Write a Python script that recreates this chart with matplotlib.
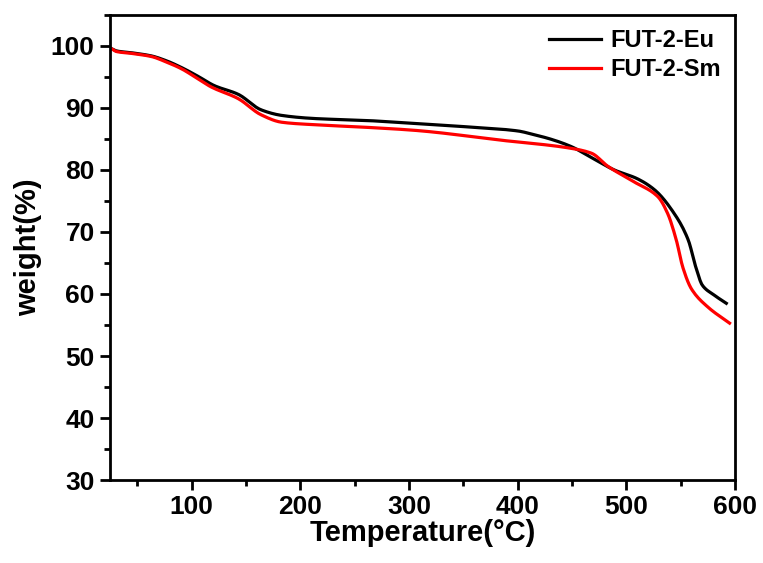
import matplotlib
matplotlib.use("Agg")
import matplotlib.pyplot as plt
from matplotlib.ticker import MultipleLocator
import numpy as np

plt.rcParams.update({
    "font.family": ["Liberation Sans", "DejaVu Sans"],
    "font.weight": "bold",
    "axes.linewidth": 2.0,
})

# TGA curves, temperature in degC and remaining weight in %
temp_eu = [26, 31, 45, 63, 77, 91, 106, 121, 143, 164, 183, 213, 259, 305, 350, 400,
           415, 430, 449, 470, 489, 510, 526, 544, 557, 564, 570, 581, 592]
weight_eu = [99.6, 99.2, 98.9, 98.4, 97.6, 96.5, 95.1, 93.6, 92.2, 89.7, 88.8, 88.3,
             88.0, 87.5, 87.0, 86.3, 85.7, 85.0, 83.8, 81.8, 80.0, 78.6, 76.8, 73.0,
             68.7, 64.3, 61.4, 59.8, 58.5]

temp_sm = [26, 31, 45, 63, 77, 91, 105, 118, 143, 164, 183, 213, 259, 305, 385, 449,
           468, 483, 507, 529, 538, 546, 552, 560, 575, 595]
weight_sm = [99.6, 99.1, 98.8, 98.3, 97.4, 96.3, 94.8, 93.4, 91.5, 88.9, 87.7, 87.3,
             86.9, 86.4, 84.8, 83.5, 82.7, 80.6, 78.1, 75.7, 73.0, 68.7, 64.3, 60.8,
             57.9, 55.3]


def smooth(x, y, n=400):
    # monotone cubic (PCHIP-style) resampling so the curves look continuous
    x = np.asarray(x, float)
    y = np.asarray(y, float)
    h = np.diff(x)
    d = np.diff(y) / h
    m = np.zeros_like(y)
    m[0], m[-1] = d[0], d[-1]
    for i in range(1, len(x) - 1):
        if d[i - 1] * d[i] > 0:
            w1 = 2 * h[i] + h[i - 1]
            w2 = h[i] + 2 * h[i - 1]
            m[i] = (w1 + w2) / (w1 / d[i - 1] + w2 / d[i])
    xs = np.linspace(x[0], x[-1], n)
    k = np.clip(np.searchsorted(x, xs) - 1, 0, len(x) - 2)
    t = (xs - x[k]) / h[k]
    h00 = 2 * t**3 - 3 * t**2 + 1
    h10 = t**3 - 2 * t**2 + t
    h01 = -2 * t**3 + 3 * t**2
    h11 = t**3 - t**2
    ys = h00 * y[k] + h10 * h[k] * m[k] + h01 * y[k + 1] + h11 * h[k] * m[k + 1]
    return xs, ys


fig = plt.figure(figsize=(7.63, 5.63), dpi=100)
ax = fig.add_axes([0.1442, 0.1474, 0.8191, 0.826])

ax.plot(*smooth(temp_eu, weight_eu), color="black", lw=2.3, label="FUT-2-Eu")
ax.plot(*smooth(temp_sm, weight_sm), color="red", lw=2.3, label="FUT-2-Sm")

ax.set_xlim(25, 600)
ax.set_ylim(30, 105)
ax.xaxis.set_major_locator(MultipleLocator(100))
ax.xaxis.set_minor_locator(MultipleLocator(50))
ax.yaxis.set_major_locator(MultipleLocator(10))
ax.yaxis.set_minor_locator(MultipleLocator(5))
ax.tick_params(which="both", direction="out", width=2, labelsize=19, top=False, right=False)
ax.tick_params(which="major", length=7, pad=4)
ax.tick_params(which="minor", length=4)
for lab in ax.get_xticklabels() + ax.get_yticklabels():
    lab.set_fontweight("bold")

ax.set_xlabel("Temperature(\u00b0C)", fontsize=21, fontweight="bold", labelpad=0)
ax.set_ylabel("weight(%)", fontsize=21, fontweight="bold", labelpad=6)

leg = ax.legend(loc="upper right", frameon=False, fontsize=17, handlelength=2.2,
                handletextpad=0.4, labelspacing=0.25, borderaxespad=0.2)
for t in leg.get_texts():
    t.set_fontweight("bold")

fig.savefig("out.png", dpi=100)
